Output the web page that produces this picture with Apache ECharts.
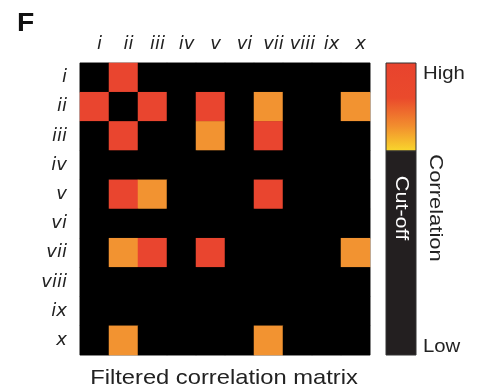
<!DOCTYPE html>
<html><head><meta charset="utf-8">
<script src="https://cdn.jsdelivr.net/npm/echarts@6/dist/echarts.min.js"></script>
<style>html,body{margin:0;padding:0;background:#fff}#c{width:484px;height:388px}</style>
</head><body><div id="c"></div>
<script>
const labels = ['i','ii','iii','iv','v','vi','vii','viii','ix','x'];
// filtered correlation (0 = below cut-off); 0.95 = high (red), 0.75 = medium (orange)
const matrix = [
  [0,   0.95,0,   0,0,   0,0,   0,0,0   ],
  [0.95,0,   0.95,0,0.95,0,0.75,0,0,0.75],
  [0,   0.95,0,   0,0.75,0,0.95,0,0,0   ],
  [0,   0,   0,   0,0,   0,0,   0,0,0   ],
  [0,   0.95,0.75,0,0,   0,0.95,0,0,0   ],
  [0,   0,   0,   0,0,   0,0,   0,0,0   ],
  [0,   0.75,0.95,0,0.95,0,0,   0,0,0.75],
  [0,   0,   0,   0,0,   0,0,   0,0,0   ],
  [0,   0,   0,   0,0,   0,0,   0,0,0   ],
  [0,   0.75,0,   0,0,   0,0.75,0,0,0   ]
];
const cutoff = 0.6;
const colorbarText = {high:'High', low:'Low', cut:'Cut-off', title:'Correlation'};
const panelLetter = 'F';
const chartTitle = 'Filtered correlation matrix';

const data = [];
matrix.forEach((row, r) => row.forEach((v, c) => data.push([c, r, v])));

const FF = '"Liberation Sans", Arial, Helvetica, sans-serif';
const FL = '"DejaVu Sans", sans-serif';
const chart = echarts.init(document.getElementById('c'), null, {renderer:'canvas'});
chart.setOption({
  animation:false,
  backgroundColor:'#fff',
  grid:{left:80, top:63, width:290, height:292, show:true, backgroundColor:'#000', borderColor:'#666', borderWidth:1},
  xAxis:{type:'category', data:labels, position:'top',
    axisLine:{show:false}, axisTick:{show:false}, splitLine:{show:false},
    axisLabel:{interval:0, hideOverlap:false, fontFamily:FL, fontStyle:'italic', fontSize:18, color:'#222', margin:10, padding:[0,0,0,10]}},
  yAxis:{type:'category', data:labels, inverse:true,
    axisLine:{show:false}, axisTick:{show:false}, splitLine:{show:false},
    axisLabel:{interval:0, fontFamily:FL, fontStyle:'italic', fontSize:18, color:'#222', margin:13}},
  visualMap:{type:'piecewise', show:false, dimension:2,
    pieces:[{lt:cutoff, color:'#000'},{gte:cutoff, lt:0.85, color:'#f29331'},{gte:0.85, color:'#e9452f'}]},
  series:[{type:'heatmap', data:data, itemStyle:{borderWidth:0}, emphasis:{disabled:true}}],
  graphic:[
    {type:'text', x:17, y:24, scaleX:1.13, style:{text:panelLetter, font:'bold 25px '+FF, fill:'#111', align:'left', verticalAlign:'middle'}},
    {type:'rect', shape:{x:386, y:63, width:30, height:88},
      style:{fill:new echarts.graphic.LinearGradient(0,0,0,1,[
        {offset:0, color:'#e8432e'},{offset:0.4, color:'#ea4a2c'},{offset:0.72, color:'#f28f2e'},{offset:1, color:'#f9d82c'}]), stroke:'#333', lineWidth:1}},
    {type:'rect', shape:{x:386, y:151, width:30, height:204}, style:{fill:'#231f20', stroke:'#333', lineWidth:1}},
    {type:'text', x:401, y:208, rotation:-Math.PI/2, scaleX:1.2,
      style:{text:colorbarText.cut, font:'18px '+FF, fill:'#fff', align:'center', verticalAlign:'middle'}},
    {type:'text', x:435, y:208, rotation:-Math.PI/2, scaleX:1.22,
      style:{text:colorbarText.title, font:'18px '+FF, fill:'#222', align:'center', verticalAlign:'middle'}},
    {type:'text', x:423, y:74, scaleX:1.13, style:{text:colorbarText.high, font:'18px '+FF, fill:'#222', align:'left', verticalAlign:'middle'}},
    {type:'text', x:423, y:347, scaleX:1.13, style:{text:colorbarText.low, font:'18px '+FF, fill:'#222', align:'left', verticalAlign:'middle'}},
    {type:'text', x:224, y:378, scaleX:1.13, style:{text:chartTitle, font:'21px '+FF, fill:'#222', align:'center', verticalAlign:'middle'}}
  ]
});
</script></body></html>
